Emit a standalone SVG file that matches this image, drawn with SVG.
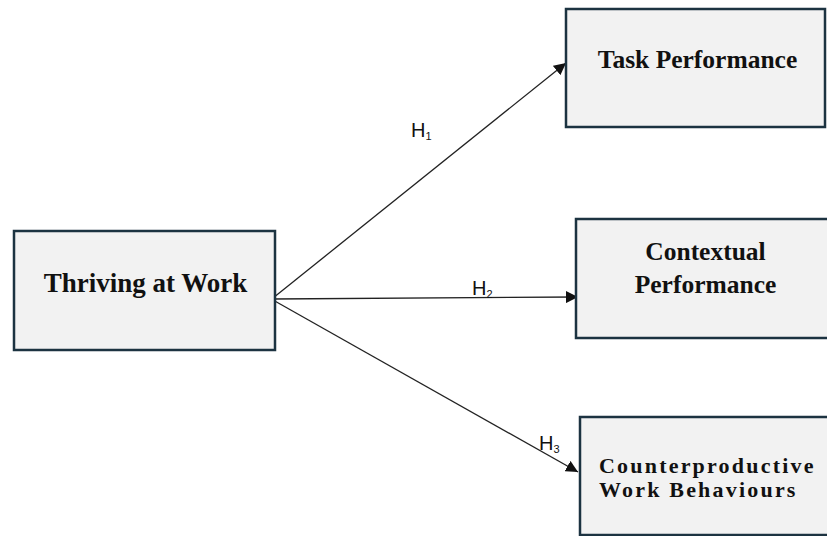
<svg xmlns="http://www.w3.org/2000/svg" width="827" height="536" viewBox="0 0 827 536">
<style>
.box{fill:#f2f2f2;stroke:#1c3341;stroke-width:2.5}
.t{font-family:"Liberation Serif",serif;font-weight:bold;fill:#111;text-anchor:middle}
.ts{font-family:"Liberation Serif",serif;font-weight:bold;fill:#111;text-anchor:start;font-size:22px;letter-spacing:2.2px}
.lbl{font-family:"Liberation Sans",Arial,sans-serif;font-size:20px;fill:#111}
.sub{font-size:11px}
.c{stroke:#222;stroke-width:1.3;fill:none;marker-end:url(#ah)}
</style>
<defs>
<marker id="ah" viewBox="0 0 10 10" refX="10" refY="5" markerWidth="12" markerHeight="12" markerUnits="userSpaceOnUse" orient="auto">
<path d="M0,0 L10,5 L0,10 z" fill="#111"/>
</marker>
</defs>
<rect width="827" height="536" fill="#fff"/>
<g id="connectors">
<line class="c" x1="273" y1="298" x2="566" y2="63"/>
<line class="c" x1="273" y1="299" x2="578" y2="297"/>
<line class="c" x1="273" y1="300" x2="578" y2="472"/>
</g>
<g id="labels">
<text class="lbl" x="411" y="137">H<tspan class="sub" dy="3">1</tspan></text>
<text class="lbl" x="472" y="295">H<tspan class="sub" dy="3">2</tspan></text>
<text class="lbl" x="539" y="450">H<tspan class="sub" dy="3">3</tspan></text>
</g>
<g id="thriving">
<rect class="box" x="14" y="231" width="261" height="119"/>
<text class="t" x="145.5" y="292" font-size="27">Thriving at Work</text>
</g>
<g id="task">
<rect class="box" x="566" y="9" width="259" height="118"/>
<text class="t" x="697.5" y="68" font-size="25.5">Task Performance</text>
</g>
<g id="contextual">
<rect class="box" x="576" y="219" width="254" height="119"/>
<text class="t" x="705.5" y="260" font-size="25.5">Contextual</text>
<text class="t" x="705.5" y="293" font-size="25.5">Performance</text>
</g>
<g id="cwb">
<rect class="box" x="580" y="417" width="250" height="118"/>
<text class="ts" x="599" y="473">Counterproductive</text>
<text class="ts" x="599" y="497">Work Behaviours</text>
</g>
</svg>
